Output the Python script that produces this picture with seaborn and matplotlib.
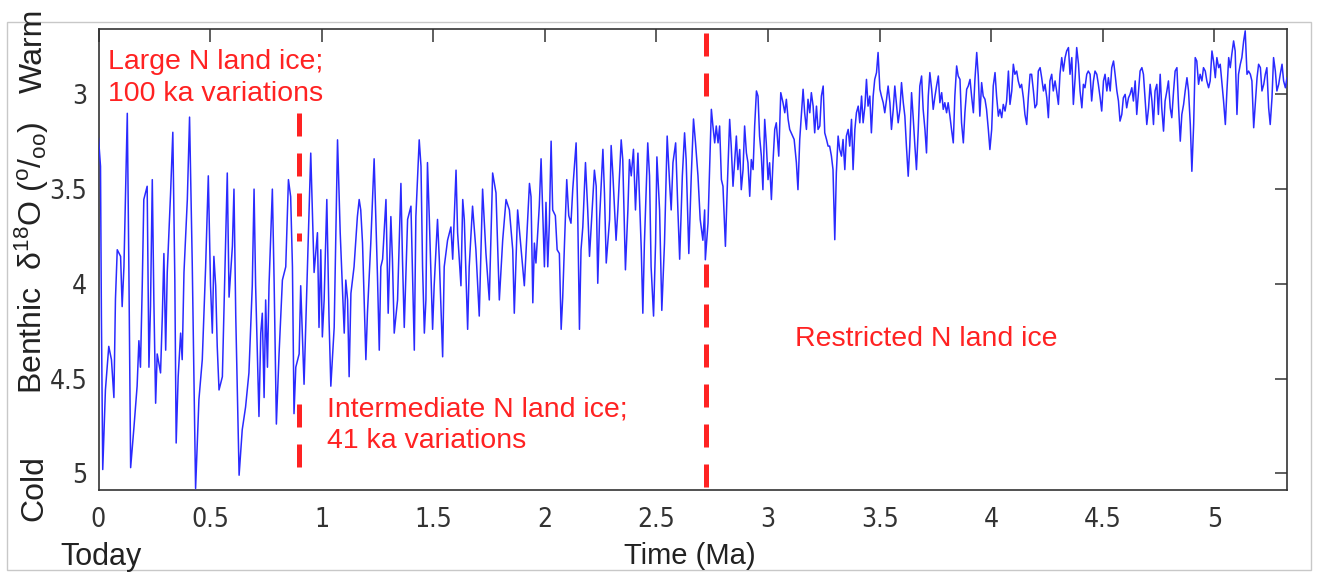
import numpy as np
import pandas as pd
import matplotlib
matplotlib.use("Agg")
import matplotlib.pyplot as plt
import seaborn as sns
from matplotlib.patches import Rectangle
from matplotlib import font_manager

# ---------------- data ----------------
# (age in Ma, benthic d18O in permil)
seg_late_pleistocene = [
    (0.000, 3.23), (0.009, 3.38), (0.013, 4.17), (0.019, 4.98), (0.031, 4.56), (0.046, 4.33), (0.058, 4.40),
    (0.069, 4.60), (0.076, 4.08), (0.084, 3.82), (0.099, 3.855), (0.106, 4.12), (0.114, 3.91), (0.129, 3.10),
    (0.136, 3.91), (0.144, 4.97), (0.159, 4.755), (0.173, 4.54), (0.181, 4.30), (0.188, 4.44), (0.196, 4.01),
    (0.203, 3.555), (0.218, 3.485), (0.226, 4.44), (0.233, 4.12), (0.241, 3.45), (0.248, 4.085), (0.256, 4.63),
    (0.263, 4.37), (0.278, 4.47), (0.286, 4.17), (0.293, 3.84), (0.301, 4.35), (0.308, 3.94), (0.323, 3.52),
    (0.333, 3.20), (0.342, 3.98), (0.348, 4.84), (0.357, 4.49), (0.368, 4.26), (0.375, 4.40), (0.383, 3.94),
    (0.398, 3.555), (0.408, 3.12), (0.420, 3.89), (0.435, 5.08), (0.450, 4.61), (0.465, 4.40), (0.480, 3.91),
    (0.492, 3.43), (0.502, 4.01), (0.510, 4.26), (0.517, 3.855), (0.525, 4.01), (0.532, 4.33), (0.540, 4.56),
    (0.555, 4.49), (0.570, 3.77), (0.577, 3.415), (0.585, 4.07), (0.600, 3.80), (0.607, 3.50), (0.615, 4.17),
    (0.630, 5.01), (0.644, 4.77), (0.659, 4.65), (0.674, 4.47), (0.689, 4.01), (0.697, 3.50), (0.704, 4.01),
    (0.719, 4.70), (0.727, 4.26), (0.734, 4.155), (0.742, 4.60), (0.749, 4.085), (0.757, 4.44), (0.764, 4.01),
    (0.779, 3.50), (0.787, 3.996), (0.797, 4.74), (0.809, 4.37), (0.824, 3.98), (0.839, 3.91), (0.851, 3.45),
    (0.861, 3.54), (0.869, 3.91), (0.876, 4.685), (0.884, 4.44), (0.899, 4.37),
]

seg_early_pleistocene = [
    (0.906, 4.01), (0.921, 4.53), (0.936, 3.91), (0.951, 3.31), (0.966, 3.94), (0.981, 3.73), (0.988, 4.23),
    (0.996, 3.82), (1.003, 4.28), (1.011, 4.085), (1.023, 3.555), (1.033, 4.19), (1.041, 4.54), (1.056, 4.23),
    (1.071, 3.24), (1.083, 3.73), (1.093, 4.03), (1.101, 4.26), (1.108, 3.98), (1.116, 4.085), (1.123, 4.49),
    (1.131, 4.05), (1.145, 3.91), (1.160, 3.645), (1.168, 3.555), (1.175, 3.61), (1.183, 3.785), (1.198, 4.40),
    (1.205, 4.155), (1.220, 3.785), (1.235, 3.34), (1.250, 3.96), (1.258, 4.35), (1.265, 3.91), (1.273, 3.87),
    (1.288, 3.555), (1.298, 4.155), (1.310, 3.645), (1.317, 3.87), (1.325, 4.26), (1.340, 4.085), (1.355, 3.47),
    (1.362, 3.87), (1.370, 4.23), (1.385, 3.66), (1.400, 3.59), (1.415, 4.35), (1.422, 3.645), (1.437, 3.24),
    (1.445, 3.38), (1.452, 3.91), (1.460, 4.26), (1.467, 4.085), (1.474, 3.36), (1.482, 3.645), (1.497, 4.24),
    (1.504, 4.01), (1.519, 3.66), (1.527, 3.87), (1.542, 4.385), (1.549, 3.91), (1.564, 3.77), (1.579, 3.70),
    (1.587, 3.87), (1.602, 3.40), (1.609, 3.73), (1.624, 4.01), (1.632, 3.555), (1.639, 3.66), (1.654, 4.24),
    (1.661, 3.91), (1.676, 3.59), (1.691, 3.82), (1.706, 4.17), (1.721, 3.50), (1.736, 3.84), (1.751, 4.085),
    (1.766, 3.415), (1.781, 3.52), (1.796, 4.085), (1.811, 3.77), (1.826, 3.555), (1.841, 3.61), (1.856, 3.82),
    (1.863, 4.155), (1.878, 3.61),
]

seg_gelasian = [
    (1.908, 4.01), (1.923, 3.66), (1.931, 3.47), (1.938, 3.54), (1.946, 4.10), (1.953, 3.785), (1.960, 3.89),
    (1.975, 3.59), (1.983, 3.34), (1.990, 3.61), (1.998, 3.91), (2.005, 3.57), (2.013, 3.91), (2.020, 3.68),
    (2.028, 3.247), (2.035, 3.61), (2.047, 3.64), (2.055, 3.82), (2.065, 3.84), (2.073, 4.24), (2.080, 4.07),
    (2.088, 3.785), (2.098, 3.45), (2.107, 3.64), (2.117, 3.68), (2.125, 3.50), (2.140, 3.256), (2.147, 3.61),
    (2.155, 4.24), (2.162, 3.82), (2.170, 3.70), (2.182, 3.36), (2.192, 3.61), (2.200, 3.855), (2.212, 3.61),
    (2.222, 3.40), (2.230, 3.485), (2.237, 3.997), (2.245, 3.66), (2.260, 3.29), (2.267, 3.52), (2.275, 3.89),
    (2.290, 3.66), (2.297, 3.27), (2.305, 3.43), (2.319, 3.77), (2.327, 3.61), (2.342, 3.24), (2.349, 3.344),
    (2.361, 3.926), (2.372, 3.61), (2.379, 3.344), (2.387, 3.43), (2.397, 3.29), (2.406, 3.61), (2.417, 3.31),
    (2.432, 3.82), (2.439, 4.155), (2.446, 3.785), (2.461, 3.256), (2.469, 3.43), (2.476, 3.91), (2.487, 4.17),
    (2.496, 3.785), (2.502, 3.33), (2.514, 3.61), (2.524, 4.14), (2.536, 3.785), (2.548, 3.22), (2.559, 3.47),
    (2.566, 3.61), (2.574, 3.36), (2.586, 3.256), (2.596, 3.61), (2.604, 3.87), (2.616, 3.43), (2.626, 3.203),
    (2.633, 3.344), (2.645, 3.84), (2.656, 3.43), (2.666, 3.13), (2.675, 3.256), (2.686, 3.43), (2.696, 3.66),
    (2.708, 3.77), (2.716, 3.61),
]

seg_late_pliocene = [
    (2.719, 3.873), (2.731, 3.679), (2.738, 3.397), (2.746, 3.079), (2.753, 3.167), (2.761, 3.256),
    (2.768, 3.167), (2.776, 3.256), (2.783, 3.167), (2.791, 3.450), (2.798, 3.485), (2.809, 3.802),
    (2.817, 3.503), (2.828, 3.132), (2.835, 3.273), (2.843, 3.485), (2.850, 3.361), (2.858, 3.220),
    (2.865, 3.397), (2.873, 3.291), (2.880, 3.503), (2.888, 3.397), (2.895, 3.167), (2.903, 3.309),
    (2.910, 3.361), (2.918, 3.538), (2.925, 3.344), (2.933, 3.397), (2.940, 3.167), (2.948, 2.982),
    (2.955, 3.009), (2.962, 3.220), (2.970, 3.326), (2.977, 3.503), (2.985, 3.132), (2.992, 3.256),
    (3.000, 3.450), (3.007, 3.361), (3.015, 3.555), (3.022, 3.361), (3.030, 3.185), (3.037, 3.150),
    (3.048, 3.326), (3.057, 2.991), (3.067, 3.044), (3.075, 3.097), (3.082, 3.026), (3.090, 3.132),
    (3.097, 3.185), (3.117, 3.238), (3.127, 3.361), (3.134, 3.503), (3.142, 3.238), (3.149, 3.115),
    (3.157, 2.973), (3.164, 3.097), (3.172, 3.185), (3.179, 3.026), (3.187, 3.097), (3.194, 2.991),
    (3.202, 3.062), (3.209, 3.203), (3.217, 3.062), (3.224, 3.185), (3.232, 3.167), (3.239, 3.009),
    (3.247, 2.956), (3.254, 3.203), (3.262, 3.238), (3.269, 3.273), (3.276, 3.273), (3.284, 3.326),
    (3.291, 3.397), (3.299, 3.767), (3.306, 3.414), (3.314, 3.220), (3.321, 3.291), (3.329, 3.326),
    (3.336, 3.238), (3.344, 3.397), (3.351, 3.220), (3.359, 3.185), (3.366, 3.273), (3.374, 3.132),
    (3.381, 3.397), (3.389, 3.185), (3.396, 3.097), (3.404, 3.062), (3.411, 3.150), (3.419, 3.009),
    (3.426, 3.150), (3.434, 3.062), (3.441, 2.921), (3.448, 3.062), (3.456, 3.009), (3.463, 3.203),
    (3.471, 3.009), (3.478, 2.921), (3.486, 2.885), (3.493, 2.779), (3.501, 2.973), (3.508, 3.009),
    (3.516, 3.044), (3.523, 3.097), (3.531, 3.026), (3.538, 2.956), (3.546, 3.044), (3.553, 3.185),
    (3.561, 3.079), (3.568, 2.956), (3.576, 3.062), (3.583, 3.150), (3.591, 3.079), (3.598, 2.938),
    (3.606, 3.044), (3.613, 3.115), (3.620, 3.273), (3.628, 3.432), (3.635, 3.273), (3.643, 2.991),
    (3.650, 3.115), (3.658, 3.273), (3.665, 3.397), (3.673, 3.185), (3.680, 2.956), (3.688, 2.903),
    (3.695, 3.079), (3.703, 3.185), (3.710, 3.309), (3.718, 3.009), (3.725, 2.885), (3.733, 2.973),
    (3.740, 3.079), (3.748, 3.009), (3.755, 2.956), (3.763, 2.903), (3.770, 3.044), (3.778, 2.991),
    (3.785, 3.079), (3.792, 3.044), (3.800, 3.097), (3.807, 3.044), (3.815, 3.115), (3.822, 3.185),
    (3.830, 3.256), (3.837, 3.009), (3.845, 2.850), (3.852, 2.903), (3.860, 2.921), (3.867, 3.150),
    (3.875, 3.256), (3.882, 3.097), (3.890, 2.973), (3.897, 2.956), (3.905, 2.921), (3.912, 3.009),
    (3.920, 3.097), (3.927, 2.921), (3.935, 2.779), (3.942, 2.903), (3.949, 3.115), (3.957, 2.938),
    (3.964, 3.009), (3.972, 3.026), (3.979, 3.079), (3.987, 3.185), (3.994, 3.291), (4.002, 3.185),
    (4.009, 2.956), (4.017, 2.885), (4.024, 3.009), (4.032, 3.115), (4.039, 3.079),
]

seg_early_pliocene = [
    (4.047, 3.123), (4.054, 3.053), (4.062, 3.088), (4.069, 3.035), (4.077, 2.877), (4.084, 3.053),
    (4.092, 2.982), (4.099, 2.841), (4.106, 2.894), (4.114, 2.877), (4.121, 2.929), (4.129, 2.965),
    (4.136, 2.947), (4.144, 3.018), (4.151, 3.106), (4.159, 3.159), (4.166, 3.018), (4.174, 2.894),
    (4.181, 2.894), (4.189, 2.982), (4.196, 3.071), (4.204, 3.053), (4.211, 2.877), (4.219, 2.859),
    (4.226, 2.912), (4.234, 2.982), (4.241, 2.947), (4.249, 3.018), (4.256, 3.123), (4.263, 2.929),
    (4.271, 2.894), (4.278, 2.982), (4.286, 2.929), (4.293, 2.982), (4.301, 3.053), (4.308, 2.894),
    (4.316, 2.806), (4.323, 2.877), (4.331, 2.806), (4.338, 2.771), (4.346, 2.753), (4.353, 2.894),
    (4.361, 2.806), (4.368, 3.053), (4.376, 2.912), (4.383, 2.753), (4.391, 2.841), (4.398, 2.982),
    (4.406, 3.071), (4.413, 2.947), (4.420, 2.965), (4.428, 2.894), (4.435, 2.877), (4.443, 2.894),
    (4.450, 3.035), (4.458, 2.929), (4.465, 2.877), (4.473, 2.894), (4.480, 2.947), (4.488, 3.018),
    (4.495, 3.088), (4.503, 2.929), (4.510, 2.894), (4.518, 2.982), (4.525, 2.912), (4.533, 2.982),
    (4.540, 2.859), (4.548, 2.824), (4.555, 2.894), (4.563, 2.982), (4.570, 3.035), (4.577, 3.141),
    (4.585, 3.106), (4.592, 3.018), (4.600, 3.000), (4.607, 3.071), (4.615, 3.018), (4.622, 3.000),
    (4.630, 2.965), (4.637, 3.035), (4.645, 2.929), (4.652, 3.106), (4.660, 2.982), (4.667, 2.877),
    (4.675, 2.859), (4.682, 2.894), (4.690, 3.035), (4.697, 3.159), (4.705, 3.071), (4.712, 2.947),
    (4.720, 3.035), (4.727, 3.159), (4.734, 2.982), (4.742, 2.947), (4.749, 3.106), (4.757, 2.894),
    (4.764, 3.071), (4.772, 3.194), (4.779, 3.035), (4.787, 2.982), (4.794, 2.929), (4.802, 3.071),
    (4.809, 3.123), (4.817, 2.982), (4.824, 2.877), (4.832, 2.859), (4.839, 3.053), (4.847, 3.247),
    (4.854, 3.106), (4.862, 3.053), (4.869, 2.982), (4.877, 2.912), (4.884, 2.982), (4.892, 3.159),
    (4.899, 3.406), (4.907, 3.159), (4.914, 2.806), (4.921, 2.824), (4.929, 2.947), (4.936, 2.894),
    (4.944, 2.929), (4.951, 2.859), (4.959, 2.877), (4.966, 2.929), (4.974, 2.965), (4.981, 2.929),
    (4.989, 2.771), (4.996, 2.824), (5.004, 2.912), (5.011, 2.806), (5.019, 2.859), (5.026, 2.841),
    (5.034, 2.947), (5.041, 3.035), (5.049, 3.159), (5.056, 2.982), (5.064, 2.806), (5.071, 2.859),
    (5.078, 2.788), (5.086, 2.718), (5.093, 2.771), (5.101, 3.106), (5.108, 2.894), (5.116, 2.841),
    (5.123, 2.806), (5.131, 2.718), (5.138, 2.665), (5.146, 2.894), (5.153, 2.877), (5.161, 2.894),
    (5.168, 2.929), (5.176, 3.176), (5.183, 3.053), (5.191, 2.912), (5.198, 2.841), (5.206, 2.859),
    (5.213, 2.982), (5.221, 2.947), (5.228, 2.894), (5.235, 2.859), (5.243, 3.071), (5.250, 3.159),
    (5.258, 3.018), (5.265, 2.806), (5.273, 2.877), (5.280, 2.982), (5.288, 2.947), (5.295, 2.894),
    (5.303, 2.841), (5.310, 2.929), (5.318, 2.965), (5.325, 2.912),
]

x_ticks = [0, 0.5, 1, 1.5, 2, 2.5, 3, 3.5, 4, 4.5, 5]
x_tick_labels = ["0", "0.5", "1", "1.5", "2", "2.5", "3", "3.5", "4", "4.5", "5"]
y_ticks = [3, 3.5, 4, 4.5, 5]
y_tick_labels = ["3", "3.5", "4", "4.5", "5"]

# regime boundaries (Ma) and the d18O extent of each dashed piece
boundary_age = [0.90, 0.90, 2.72, 2.72]
boundary_from = [3.097, 4.633, 2.675, 3.897]
boundary_to = [3.776, 4.976, 3.013, 5.088]

regime_text = ["Large N land ice;\n100 ka variations",
               "Intermediate N land ice;\n41 ka variations",
               "Restricted N land ice"]

# ---------------- figure ----------------
sns.set_style("white")
plt.rcParams["font.family"] = ["Liberation Sans", "DejaVu Sans"]
plt.rcParams["mathtext.default"] = "regular"

# a condensed face for the tick numbers, if one is installed
narrow = None
for f in font_manager.fontManager.ttflist:
    if f.name in ("Liberation Sans Narrow", "Arial Narrow") or \
            (f.name == "DejaVu Sans" and f.stretch == "condensed" and f.weight in (400, "normal")
             and f.style == "normal"):
        narrow = f.fname
        break
tick_fp = font_manager.FontProperties(fname=narrow, size=19) if narrow else \
    font_manager.FontProperties(family=["Liberation Sans"], size=17)

W, H = 1317, 575
fig = plt.figure(figsize=(W / 100, H / 100), dpi=100, facecolor="white")
L, R, T, B = 98.5, 1286.5, 29, 490
ax = fig.add_axes([L / W, 1 - B / H, (R - L) / W, (B - T) / H])

df = pd.DataFrame(seg_late_pleistocene + seg_early_pleistocene + seg_gelasian
                  + seg_late_pliocene + seg_early_pliocene, columns=["age", "d18o"])
sns.lineplot(data=df, x="age", y="d18o", ax=ax, color="#2a2aff", lw=1.1,
             estimator=None, sort=False, zorder=3)

red = "#ff2222"
for a, y0, y1 in zip(boundary_age, boundary_from, boundary_to):
    ax.plot([a, a], [y0, y1], color=red, lw=3.6, linestyle=(0, (4.6, 3.4)),
            dash_capstyle="butt", zorder=2)

ax.text(0.043, 2.915, regime_text[0], color=red, fontsize=20.5, va="center",
        ha="left", linespacing=1.3, zorder=4)
ax.text(1.024, 4.745, regime_text[1], color=red, fontsize=20.5, va="center",
        ha="left", linespacing=1.3, zorder=4)
ax.text(3.12, 4.29, regime_text[2], color=red, fontsize=20.5, va="center",
        ha="left", zorder=4)

ax.set_xlim(0, 5.323)
ax.set_ylim(5.088, 2.655)
ax.set_xticks(x_ticks)
ax.set_xticklabels(x_tick_labels)
ax.set_yticks(y_ticks)
ax.set_yticklabels(y_tick_labels)
ax.set_xlabel("")
ax.set_ylabel("")
ax.tick_params(which="both", direction="in", top=True, right=True, length=9,
               width=1.1, colors="#333333")
ax.tick_params(axis="x", pad=12)
ax.tick_params(axis="y", pad=8)
for lab in ax.get_xticklabels() + ax.get_yticklabels():
    lab.set_fontproperties(tick_fp)
for s in ax.spines.values():
    s.set_color("#333333")
    s.set_linewidth(1.2)
    s.set_visible(True)

# axis titles
fig.text(34 / W, 1 - 488 / H, "Cold", rotation=90, fontsize=23, ha="center",
         va="center", color="#222222")
fig.text(32 / W, 1 - 258 / H, r"Benthic  $\delta^{18}$O ($^{o}/_{oo}$)", rotation=90,
         fontsize=23, ha="center", va="center", color="#222222")
fig.text(34 / W, 1 - 51 / H, "Warm", rotation=90, fontsize=23, ha="center",
         va="center", color="#222222")
fig.text(101 / W, 1 - 557 / H, "Today", fontsize=22, ha="center", va="center",
         color="#222222")
fig.text(690 / W, 1 - 556 / H, "Time (Ma)", fontsize=21, ha="center", va="center",
         color="#222222")

fig.add_artist(Rectangle((7 / W, 1 - 570 / H), (1311 - 7) / W, (570 - 22) / H,
                         transform=fig.transFigure, fill=False, ec="#c8c8c8", lw=1.0))

fig.savefig("out.png", dpi=100, facecolor="white")
